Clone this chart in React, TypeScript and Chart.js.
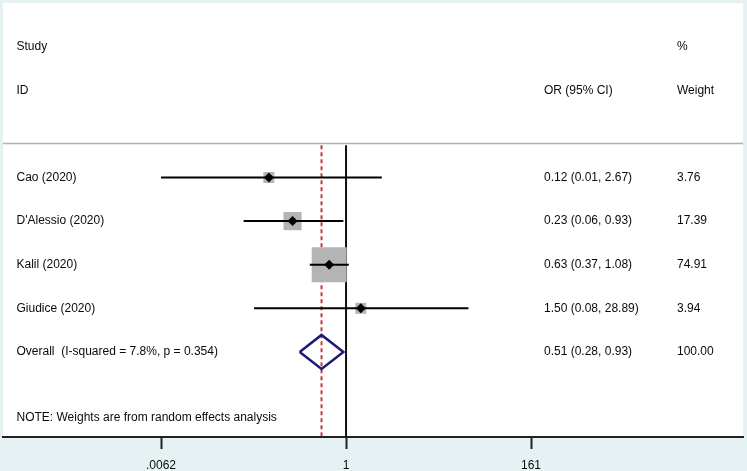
import React, { useEffect, useRef } from 'react';
import { Chart, registerables } from 'chart.js';

Chart.register(...registerables);

// ---------------- data ----------------
const STUDIES = ['Cao (2020)', "D'Alessio (2020)", 'Kalil (2020)', 'Giudice (2020)'];
const OR = [0.12, 0.23, 0.63, 1.5];
const LOWER = [0.0062, 0.06, 0.37, 0.08];
const UPPER = [2.67, 0.93, 1.08, 28.89];
const WEIGHTS = [3.76, 17.39, 74.91, 3.94];

const OVERALL_LABEL = 'Overall  (I-squared = 7.8%, p = 0.354)';
const OVERALL_OR = 0.51;
const OVERALL_LOWER = 0.28;
const OVERALL_UPPER = 0.93;
const OVERALL_WEIGHT = 100.0;

const TICK_VALUES = [0.0062, 1, 161];
const TICK_LABELS = ['.0062', '1', '161'];

const HEADER_STUDY = ['Study', 'ID'];
const HEADER_OR = 'OR (95% CI)';
const HEADER_WEIGHT = ['%', 'Weight'];
const NOTE = 'NOTE: Weights are from random effects analysis';

// ---------------- layout ----------------
const W = 747;
const H = 471;
const PAD = { left: 3, right: 4, top: 3, bottom: 0 };
const AXIS_H = 34;
const AREA_LEFT = PAD.left;
const AREA_RIGHT = W - PAD.right;
const TICK_LO_PX = 161;
const TICK_HI_PX = 531;

const logLo = Math.log10(TICK_VALUES[0]);
const logHi = Math.log10(TICK_VALUES[TICK_VALUES.length - 1]);
const decPerPx = (logHi - logLo) / (TICK_HI_PX - TICK_LO_PX);
const X_MIN = Math.pow(10, logLo - (TICK_LO_PX - AREA_LEFT) * decPerPx);
const X_MAX = Math.pow(10, logLo + (AREA_RIGHT - TICK_LO_PX) * decPerPx);

const Y_MAX = 9.95;
const HEADER_ROW = 1;
const FIRST_STUDY_ROW = 4;
const OVERALL_ROW = FIRST_STUDY_ROW + STUDIES.length;
const NOTE_ROW = OVERALL_ROW + 1.5;
const SEP_ROW = 3.22;
const DIAMOND_HALF = 0.39;

const COL_STUDY_X = 16.5;
const COL_OR_X = 544;
const COL_W_X = 677;

const FONT = '12px Arial, "Liberation Sans", sans-serif';
const TEXT_COLOR = '#0a0a0a';
const BG = '#e6f1f3';

const maxW = Math.max(...WEIGHTS);
const boxRadius = WEIGHTS.map((w) => {
  const half = Math.max(5.5, 17.5 * Math.pow(w / maxW, 0.45));
  return half / Math.SQRT1_2;
});

const fmtCI = (o: number, l: number, u: number) =>
  `${o.toFixed(2)} (${l.toFixed(2)}, ${u.toFixed(2)})`;

const bgPlugin = {
  id: 'bgPlugin',
  beforeDraw(chart: any) {
    const { ctx, chartArea } = chart;
    ctx.save();
    ctx.fillStyle = BG;
    ctx.fillRect(0, 0, chart.width, chart.height);
    ctx.fillStyle = '#ffffff';
    ctx.fillRect(chartArea.left, chartArea.top, chartArea.right - chartArea.left, chartArea.bottom - chartArea.top);
    ctx.restore();
  },
};

const textPlugin = {
  id: 'textPlugin',
  afterDraw(chart: any) {
    const { ctx } = chart;
    const y = chart.scales.y;
    ctx.save();
    ctx.font = FONT;
    ctx.fillStyle = TEXT_COLOR;
    ctx.textBaseline = 'middle';
    ctx.textAlign = 'left';
    HEADER_STUDY.forEach((t, i) => ctx.fillText(t, COL_STUDY_X, y.getPixelForValue(HEADER_ROW + i)));
    HEADER_WEIGHT.forEach((t, i) => ctx.fillText(t, COL_W_X, y.getPixelForValue(HEADER_ROW + i)));
    ctx.fillText(HEADER_OR, COL_OR_X, y.getPixelForValue(HEADER_ROW + 1));
    STUDIES.forEach((s, i) => {
      const py = y.getPixelForValue(FIRST_STUDY_ROW + i);
      ctx.fillText(s, COL_STUDY_X, py);
      ctx.fillText(fmtCI(OR[i], LOWER[i], UPPER[i]), COL_OR_X, py);
      ctx.fillText(WEIGHTS[i].toFixed(2), COL_W_X, py);
    });
    const po = y.getPixelForValue(OVERALL_ROW);
    ctx.fillText(OVERALL_LABEL, COL_STUDY_X, po);
    ctx.fillText(fmtCI(OVERALL_OR, OVERALL_LOWER, OVERALL_UPPER), COL_OR_X, po);
    ctx.fillText(OVERALL_WEIGHT.toFixed(2), COL_W_X, po);
    ctx.fillText(NOTE, COL_STUDY_X, y.getPixelForValue(NOTE_ROW));
    ctx.restore();
  },
};

export default function App() {
  const ref = useRef<HTMLCanvasElement | null>(null);

  useEffect(() => {
    if (!ref.current) return;
    const datasets: any[] = [];

    datasets.push({
      data: [{ x: X_MIN, y: SEP_ROW }, { x: X_MAX, y: SEP_ROW }],
      showLine: true,
      borderColor: '#b0b0b0',
      borderWidth: 1.5,
      pointRadius: 0,
      order: 10,
    });
    datasets.push({
      data: [{ x: 1, y: SEP_ROW + 0.04 }, { x: 1, y: Y_MAX }],
      showLine: true,
      borderColor: '#111111',
      borderWidth: 2,
      pointRadius: 0,
      order: 9,
    });
    datasets.push({
      data: [{ x: OVERALL_OR, y: SEP_ROW + 0.04 }, { x: OVERALL_OR, y: Y_MAX }],
      showLine: true,
      borderColor: '#c9383c',
      borderWidth: 2,
      borderDash: [4, 3],
      pointRadius: 0,
      order: 9,
    });
    datasets.push({
      data: OR.map((o, i) => ({ x: o, y: FIRST_STUDY_ROW + i })),
      pointStyle: 'rect',
      pointRadius: boxRadius,
      backgroundColor: '#b4b4b4',
      borderWidth: 0,
      order: 8,
    });
    STUDIES.forEach((_, i) => {
      datasets.push({
        data: [{ x: LOWER[i], y: FIRST_STUDY_ROW + i }, { x: UPPER[i], y: FIRST_STUDY_ROW + i }],
        showLine: true,
        borderColor: '#000000',
        borderWidth: 2,
        pointRadius: 0,
        order: 7,
      });
    });
    datasets.push({
      data: OR.map((o, i) => ({ x: o, y: FIRST_STUDY_ROW + i })),
      pointStyle: 'rectRot',
      pointRadius: 5,
      backgroundColor: '#000000',
      borderWidth: 0,
      order: 6,
    });
    datasets.push({
      data: [
        { x: OVERALL_LOWER, y: OVERALL_ROW },
        { x: OVERALL_OR, y: OVERALL_ROW - DIAMOND_HALF },
        { x: OVERALL_UPPER, y: OVERALL_ROW },
        { x: OVERALL_OR, y: OVERALL_ROW + DIAMOND_HALF },
        { x: OVERALL_LOWER, y: OVERALL_ROW },
      ],
      showLine: true,
      borderColor: '#1c1c78',
      borderWidth: 2.5,
      borderJoinStyle: 'miter',
      pointRadius: 0,
      fill: false,
      order: 5,
    });

    const chart = new Chart(ref.current, {
      type: 'scatter',
      data: { datasets },
      plugins: [bgPlugin, textPlugin],
      options: {
        animation: false,
        responsive: false,
        events: [],
        layout: { padding: PAD, autoPadding: false },
        plugins: { legend: { display: false }, tooltip: { enabled: false } },
        scales: {
          x: {
            type: 'logarithmic',
            min: X_MIN,
            max: X_MAX,
            bounds: 'data',
            afterBuildTicks: (s: any) => {
              s.ticks = TICK_VALUES.map((v) => ({ value: v }));
            },
            afterFit: (s: any) => {
              s.height = AXIS_H;
            },
            grid: {
              display: true,
              drawOnChartArea: false,
              drawTicks: true,
              tickLength: 12,
              tickColor: '#222222',
              tickWidth: 2,
            },
            border: { display: true, color: '#222222', width: 2 },
            ticks: {
              autoSkip: false,
              maxRotation: 0,
              padding: 9,
              color: TEXT_COLOR,
              font: { family: 'Arial, "Liberation Sans", sans-serif', size: 12 },
              callback: (_v: any, i: number) => TICK_LABELS[i],
            },
          },
          y: {
            type: 'linear',
            display: false,
            reverse: true,
            min: 0,
            max: Y_MAX,
          },
        },
      } as any,
    });
    return () => chart.destroy();
  }, []);

  return (
    <div style={{ position: 'fixed', left: 0, top: 0, width: W, height: H, background: BG }}>
      <canvas ref={ref} width={W} height={H} style={{ display: 'block', width: W, height: H }} />
    </div>
  );
}
